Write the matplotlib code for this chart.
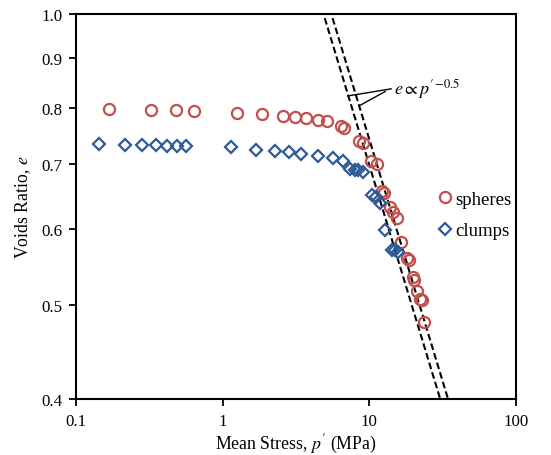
import numpy as np
import matplotlib
matplotlib.use("Agg")
import matplotlib.pyplot as plt
from matplotlib.ticker import FixedLocator, NullLocator, FixedFormatter

plt.rcParams['font.family'] = ['Liberation Serif', 'DejaVu Serif']
plt.rcParams['mathtext.fontset'] = 'stix'

# spheres (mean stress MPa, voids ratio)
spheres_p = [0.168, 0.324, 0.481, 0.637, 1.25, 1.85, 2.58, 3.11, 3.70, 4.47, 5.14,
             6.40, 6.71, 8.49, 9.04, 10.25, 11.27, 12.19, 12.59, 13.81, 14.49, 15.42,
             16.41, 18.03, 18.62, 19.82, 20.14, 21.09, 22.13, 22.86, 23.55]
spheres_e = [0.798, 0.796, 0.796, 0.794, 0.790, 0.788, 0.784, 0.782, 0.781, 0.777, 0.775,
             0.766, 0.762, 0.739, 0.736, 0.705, 0.700, 0.656, 0.653, 0.632, 0.624, 0.615,
             0.581, 0.559, 0.557, 0.535, 0.531, 0.517, 0.508, 0.506, 0.480]

# clumps
clumps_p = [0.1435, 0.216, 0.282, 0.351, 0.417, 0.488, 0.562, 1.14, 1.687, 2.27, 2.83,
            3.42, 4.47, 5.65, 6.61, 7.38, 7.98, 8.36, 9.04, 10.42, 11.09, 11.81, 12.77,
            14.26, 14.96, 15.68]
clumps_e = [0.734, 0.732, 0.732, 0.732, 0.730, 0.730, 0.730, 0.729, 0.724, 0.722, 0.720,
            0.717, 0.713, 0.710, 0.705, 0.691, 0.690, 0.690, 0.686, 0.650, 0.647, 0.638,
            0.598, 0.571, 0.570, 0.567]

# reference lines e = A * p^-0.5
line_A = [2.21, 2.35]
exponent = -0.5

x_ticks = [0.1, 1, 10, 100]
x_labels = ['0.1', '1', '10', '100']
y_ticks = [0.4, 0.5, 0.6, 0.7, 0.8, 0.9, 1.0]
y_labels = ['0.4', '0.5', '0.6', '0.7', '0.8', '0.9', '1.0']

fig = plt.figure(figsize=(5.51, 4.56), dpi=100)
ax = fig.add_axes([0.138, 0.1228, 0.798, 0.844])
ax.set_xscale('log')
ax.set_yscale('log')

# dashed power-law lines
p_line = np.logspace(0, 2, 200)
for A in line_A:
    ax.plot(p_line, A * p_line ** exponent, color='black', lw=1.5,
            dashes=(3.2, 1.6), zorder=2)

ax.plot(spheres_p, spheres_e, linestyle='none', marker='o', markersize=8,
        markerfacecolor='none', markeredgecolor='#C0504D', markeredgewidth=1.6,
        label='spheres', zorder=3)
ax.plot(clumps_p, clumps_e, linestyle='none', marker='D', markersize=6,
        markerfacecolor='none', markeredgecolor='#2E5A99', markeredgewidth=1.6,
        label='clumps', zorder=3)

ax.set_xlim(0.1, 100)
ax.set_ylim(0.4, 1.0)

ax.xaxis.set_major_locator(FixedLocator(x_ticks))
ax.xaxis.set_major_formatter(FixedFormatter(x_labels))
ax.xaxis.set_minor_locator(NullLocator())
ax.yaxis.set_major_locator(FixedLocator(y_ticks))
ax.yaxis.set_major_formatter(FixedFormatter(y_labels))
ax.yaxis.set_minor_locator(NullLocator())
ax.tick_params(direction='out', length=5, width=1.3, labelsize=12.2, pad=5)

for s in ax.spines.values():
    s.set_linewidth(1.5)

ax.set_xlabel("Mean Stress, $p'$ (MPa)", fontsize=12.8, labelpad=2)
ax.set_ylabel("Voids Ratio, $e$", fontsize=12.8, labelpad=6)

# annotation pointing at both lines
txt = "$e \\propto p'^{-0.5}$"
ax.annotate(txt, xy=(7.14, 0.823), xytext=(14.8, 0.838), fontsize=13,
            va='center', ha='left',
            arrowprops=dict(arrowstyle='-', color='black', lw=1.0, shrinkA=0, shrinkB=0,
                            relpos=(0, 0.5)))
ax.annotate('', xy=(8.7, 0.805), xytext=(12.9, 0.832),
            arrowprops=dict(arrowstyle='-', color='black', lw=1.0, shrinkA=0, shrinkB=0))

ax.legend(loc='upper left', bbox_to_anchor=(0.805, 0.565), frameon=False, fontsize=13.5,
          handlelength=0.6, handletextpad=0.25, labelspacing=0.75, borderpad=0)

fig.savefig('out.png', dpi=100)
